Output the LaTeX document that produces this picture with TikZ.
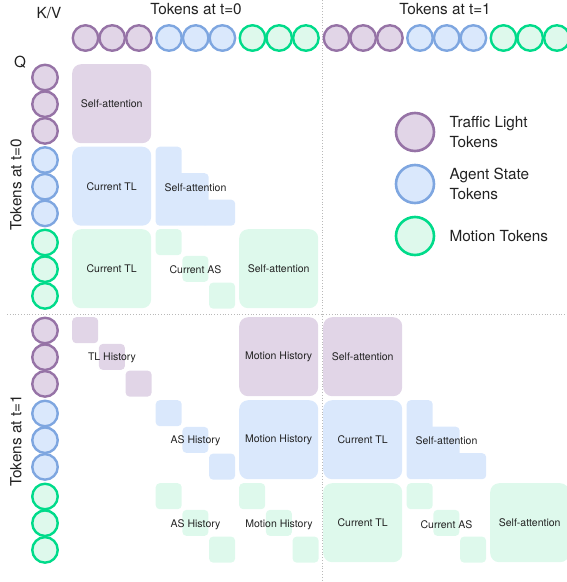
\documentclass[tikz,border=0pt]{standalone}
\usepackage{fontspec}
\setmainfont{TeX Gyre Heros}
\usetikzlibrary{positioning}

\definecolor{tlfill}{HTML}{E1D5E7}
\definecolor{tldraw}{HTML}{9673A6}
\definecolor{asfill}{HTML}{DAE8FC}
\definecolor{asdraw}{HTML}{7EA6E0}
\definecolor{mofill}{HTML}{DEF9EC}
\definecolor{modraw}{HTML}{00DB8A}
\definecolor{ink}{HTML}{222222}

\tikzset{
  tok/.style={shape=circle,draw,line width=2.4pt,minimum size=25.5pt,inner sep=0pt},
  toktl/.style={tok,draw=tldraw,fill=tlfill},
  tokas/.style={tok,draw=asdraw,fill=asfill},
  tokmo/.style={tok,draw=modraw,fill=mofill},
  blk/.style={rounded corners=9pt,minimum size=79pt,inner sep=0pt,anchor=north west,
    text=ink,font=\fontsize{10.5}{12}\selectfont},
  sq/.style={rounded corners=4pt,minimum size=26pt,inner sep=0pt,anchor=north west},
  lbl/.style={text=ink,font=\fontsize{10.5}{12}\selectfont},
  head/.style={text=ink,font=\fontsize{15.3}{18}\selectfont},
  sep/.style={gray!55,dotted,line width=0.8pt},
}

% three cells on the diagonal of one group
\newcommand{\diagcells}[4]{%
  \foreach \k in {0,1,2}
    \node[sq,fill=#3] (#4\k) at ({#1+26.7*\k},{#2+26.7*\k}) {};
}
% lower staircase of one group
\newcommand{\staircells}[4]{%
  \node[sq,fill=#3,minimum width=26pt,minimum height=79pt] (#4a) at (#1,#2) {};
  \node[sq,fill=#3,minimum width=33pt,minimum height=52.5pt] (#4b) at ({#1+20},{#2+26.5}) {};
  \node[sq,fill=#3,minimum width=33pt,minimum height=26pt] (#4c) at ({#1+46.5},{#2+53}) {};
}

\begin{document}
\begin{tikzpicture}[x=1pt,y=-1pt]
    \useasboundingbox (0,0) rectangle (566,582);

    % separators
    \draw[sep] (322,0) -- (322,582);
    \draw[sep] (7,314) -- (566,314);

    % key / value tokens
    \foreach \g/\kind/\cx in {0/tl/72,1/as/155.5,2/mo/239,3/tl/323,4/as/406.5,5/mo/490}
      \foreach \k in {0,1,2}
        \node[tok\kind] (kv\g\k) at ({\cx+13.5+26.7*\k},38) {};

    % query tokens
    \foreach \g/\kind/\ry in {0/tl/64,1/as/146.5,2/mo/229,3/tl/317,4/as/400,5/mo/483}
      \foreach \k in {0,1,2}
        \node[tok\kind] (q\g\k) at (45,{\ry+13.5+26.7*\k}) {};

    \node[head] (kvl) at (49,13) {K/V};
    \node[head] (ql) at (20,62) {Q};
    \node[head] (kvt0) at (196,9) {Tokens at t=0};
    \node[head] (kvt1) at (445,9) {Tokens at t=1};
    \node[head,rotate=90] (qt0) at (16,185) {Tokens at t=0};
    \node[head,rotate=90] (qt1) at (16,441) {Tokens at t=1};

    % t=0 rows
    \node[blk,fill=tlfill] (sa0) at (72,64) {Self-attention};

    \node[blk,fill=asfill] (ctl0) at (72,146.5) {Current TL};
    \staircells{155.5}{146.5}{asfill}{st0}
    \node[lbl] (sa1) at (195.5,188) {Self-attention};

    \node[blk,fill=mofill] (ctl1) at (72,229) {Current TL};
    \diagcells{155.5}{229}{mofill}{cas0}
    \node[lbl] (casl0) at (195.5,270) {Current AS};
    \node[blk,fill=mofill] (sa2) at (239,229) {Self-attention};

    % t=1 rows
    \diagcells{72}{317}{tlfill}{tlh}
    \node[lbl] (tlhl) at (112,358) {TL History};
    \node[blk,fill=tlfill] (mh0) at (239,317) {Motion History};
    \node[blk,fill=tlfill] (sa3) at (323,317) {Self-attention};

    \diagcells{155.5}{400}{asfill}{ash0}
    \node[lbl] (ashl0) at (195.5,441) {AS History};
    \node[blk,fill=asfill] (mh1) at (239,400) {Motion History};
    \node[blk,fill=asfill] (ctl2) at (323,400) {Current TL};
    \staircells{406.5}{400}{asfill}{st1}
    \node[lbl] (sa4) at (446.5,441) {Self-attention};

    \diagcells{155.5}{483}{mofill}{ash1}
    \node[lbl] (ashl1) at (195.5,525) {AS History};
    \diagcells{239}{483}{mofill}{mh2}
    \node[lbl] (mhl2) at (279,525) {Motion History};
    \node[blk,fill=mofill] (ctl3) at (323,483) {Current TL};
    \diagcells{406.5}{483}{mofill}{cas1}
    \node[lbl] (casl1) at (446.5,525) {Current AS};
    \node[blk,fill=mofill] (sa5) at (490,483) {Self-attention};

    % legend
    \node[toktl,minimum size=38pt,line width=2.6pt] (lgtl) at (415,132) {};
    \node[tokas,minimum size=38pt,line width=2.6pt] (lgas) at (415,184) {};
    \node[tokmo,minimum size=38pt,line width=2.6pt] (lgmo) at (415,236) {};
    \node[head,anchor=west,align=left,font=\fontsize{15.3}{20}\selectfont] (lgtlt) at (446,132) {Traffic Light\\Tokens};
    \node[head,anchor=west,align=left,font=\fontsize{15.3}{20}\selectfont] (lgast) at (446,184) {Agent State\\Tokens};
    \node[head,anchor=west] (lgmot) at (446,236) {Motion Tokens};
\end{tikzpicture}
\end{document}
